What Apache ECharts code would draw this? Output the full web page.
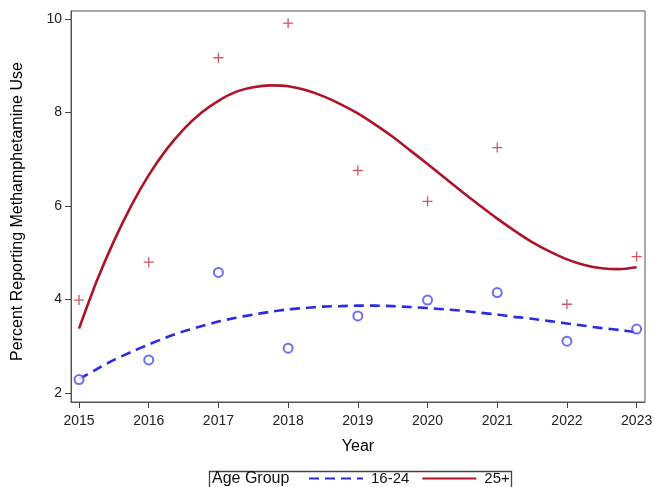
<!DOCTYPE html>
<html>
<head>
<meta charset="utf-8">
<script src="https://cdn.jsdelivr.net/npm/echarts@6/dist/echarts.min.js"></script>
<style>
html,body{margin:0;padding:0;background:#fff;}
#chart{width:654px;height:487px;}
</style>
</head>
<body>
<div id="chart"></div>
<script>
// Observed values
const years = [2015, 2016, 2017, 2018, 2019, 2020, 2021, 2022, 2023];
const obs1624 = [2.29, 2.71, 4.58, 2.96, 3.65, 3.99, 4.15, 3.11, 3.37];
const obs25 = [3.99, 4.80, 9.17, 9.91, 6.76, 6.10, 7.25, 3.90, 4.92];

// Fitted curves, every quarter year
const fitYears = [2015, 2015.25, 2015.5, 2015.75, 2016, 2016.25, 2016.5, 2016.75, 2017, 2017.25, 2017.5, 2017.75,
  2018, 2018.25, 2018.5, 2018.75, 2019, 2019.25, 2019.5, 2019.75, 2020, 2020.25, 2020.5, 2020.75,
  2021, 2021.25, 2021.5, 2021.75, 2022, 2022.25, 2022.5, 2022.75, 2023];
const fit1624 = [2.30, 2.51, 2.71, 2.88, 3.04, 3.19, 3.32, 3.43, 3.53, 3.61, 3.68, 3.74,
  3.79, 3.82, 3.85, 3.86, 3.87, 3.87, 3.86, 3.84, 3.82, 3.79, 3.76, 3.72,
  3.68, 3.63, 3.59, 3.54, 3.49, 3.44, 3.39, 3.35, 3.30];
const fit25 = [3.38, 4.38, 5.25, 6.01, 6.66, 7.20, 7.64, 7.99, 8.25, 8.44, 8.54, 8.58,
  8.56, 8.48, 8.35, 8.18, 7.98, 7.74, 7.48, 7.19, 6.90, 6.60, 6.30, 6.01,
  5.73, 5.47, 5.23, 5.03, 4.86, 4.74, 4.67, 4.65, 4.69];

const yTicks = [2, 4, 6, 8, 10];
const seriesNames = ['16-24', '25+'];
const legendTitle = 'Age Group';
const xTitle = 'Year';
const yTitle = 'Percent Reporting Methamphetamine Use';

const BLUE = '#2b2be3';
const BLUE_M = '#4848f2';
const RED = '#ad1429';
const RED_M = '#c42a3e';
const FONT = 'Liberation Sans, Arial, sans-serif';

const pair = (xs, ys) => xs.map((x, i) => [x, ys[i]]);

const chart = echarts.init(document.getElementById('chart'), null, {renderer: 'canvas'});
chart.setOption({
  animation: false,
  backgroundColor: '#fff',
  grid: {
    left: 71, top: 11, right: 9, bottom: 85,
    show: true, borderColor: '#555', borderWidth: 1,
    outerBoundsMode: 'none', containLabel: false
  },
  xAxis: {
    type: 'value', min: 2014.885, max: 2023.12,
    name: xTitle, nameLocation: 'middle', nameGap: 37,
    nameTextStyle: {fontFamily: FONT, fontSize: 16, color: '#000'},
    axisLine: {show: true, lineStyle: {color: '#555', width: 1}},
    axisTick: {show: true, customValues: years, length: 6, lineStyle: {color: '#444'}},
    axisLabel: {customValues: years, margin: 12, fontFamily: FONT, fontSize: 14, color: '#222',
      formatter: v => String(Math.round(v))},
    splitLine: {show: false}
  },
  yAxis: {
    type: 'value', min: 1.81, max: 10.17,
    name: yTitle, nameLocation: 'middle', nameGap: 45,
    nameTextStyle: {fontFamily: FONT, fontSize: 16, color: '#000', padding: [0, 10, 0, 0]},
    axisLine: {show: true, lineStyle: {color: '#555', width: 1}},
    axisTick: {show: true, customValues: yTicks, length: 6, lineStyle: {color: '#444'}},
    axisLabel: {customValues: yTicks, margin: 9, fontFamily: FONT, fontSize: 14, color: '#222',
      formatter: v => String(Math.round(v))},
    splitLine: {show: false}
  },
  legend: {
    data: seriesNames,
    left: 308, top: 471, padding: 0,
    itemWidth: 54, itemHeight: 14, itemGap: 12,
    itemStyle: {opacity: 0},
    textStyle: {fontFamily: FONT, fontSize: 15, color: '#111', padding: [0, 0, 0, 3]},
    selectedMode: false
  },
  graphic: [
    {type: 'rect', left: 207, top: 469, shape: {width: 302, height: 17},
      style: {fill: 'none', stroke: '#444', lineWidth: 1.3}, silent: true},
    {type: 'text', left: 212, top: 471, style: {text: legendTitle, font: '16px ' + FONT, fill: '#111'}}
  ],
  series: [
    {name: seriesNames[0], type: 'line', data: pair(fitYears, fit1624), smooth: 0.25, symbol: 'none',
      lineStyle: {color: BLUE, width: 2.6, type: [10, 6]}, itemStyle: {color: BLUE}, z: 3},
    {name: seriesNames[1], type: 'line', data: pair(fitYears, fit25), smooth: 0.25, symbol: 'none',
      lineStyle: {color: RED, width: 2.6, type: 'solid'}, itemStyle: {color: RED}, z: 3},
    {name: seriesNames[0] + ' observed', type: 'scatter', data: pair(years, obs1624),
      symbol: 'emptyCircle', symbolSize: 9,
      itemStyle: {color: BLUE_M, borderColor: BLUE_M, borderWidth: 1.3}, z: 4},
    {name: seriesNames[1] + ' observed', type: 'scatter', data: pair(years, obs25),
      symbol: 'path://M0,4.35H10V5.65H0Z M4.35,0H5.65V10H4.35Z', symbolSize: 10,
      itemStyle: {color: RED_M}, z: 4}
  ]
});
</script>
</body>
</html>
